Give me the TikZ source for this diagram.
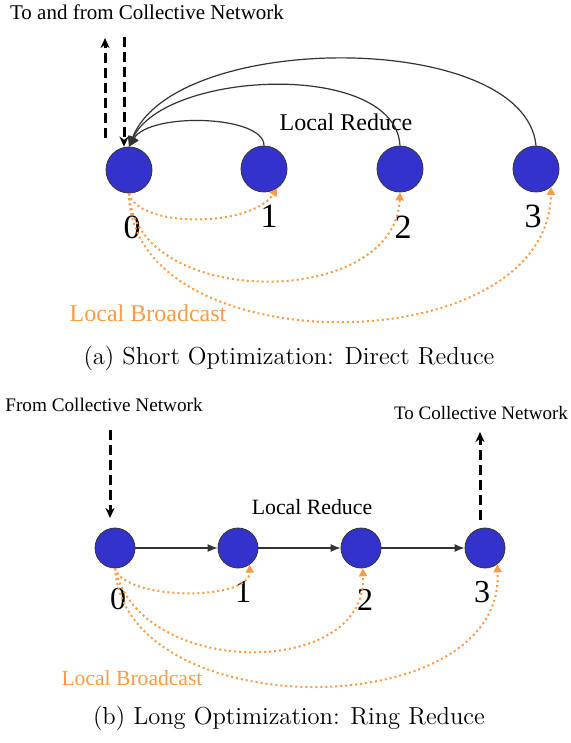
\documentclass[tikz,border=0pt]{standalone}
\usepackage{fontspec}
\newfontfamily\tnr{Liberation Serif}
\usetikzlibrary{arrows.meta}
\definecolor{procblue}{RGB}{51,51,204}
\definecolor{bcastorange}{RGB}{250,155,70}
\tikzset{
    proc/.style={circle, draw=black!80, fill=procblue, inner sep=0pt,
        minimum size=23pt},
    txt/.style={font=\tnr, inner sep=0pt},
    rank/.style={font=\tnr\fontsize{17}{17}\selectfont, inner sep=0pt},
    reduce/.style={draw=black!80, line width=0.6pt,
        -{Triangle[length=5pt,width=5pt]}},
    net/.style={line width=1.5pt, dash pattern=on 5pt off 2.5pt,
        -{Stealth[length=5pt,width=4.5pt]}},
    bcast/.style={draw=bcastorange, line width=1pt,
        dash pattern=on 1pt off 1.5pt,
        -{Triangle[length=4pt,width=4pt,fill=bcastorange]}}
}

\begin{document}
\begin{tikzpicture}[x=0.5pt, y=-0.5pt]
	\useasboundingbox (0,0) rectangle (571,743);

	% (a) direct reduce
	\node (a0) [proc] at (129,170) {};
	\node (a1) [proc] at (264,169) {};
	\node (a2) [proc] at (400,169) {};
	\node (a3) [proc] at (536,169) {};
	\node (ra0) [rank] at (132,227) {0};
	\node (ra1) [rank] at (269,216) {1};
	\node (ra2) [rank] at (403,227) {2};
	\node (ra3) [rank] at (533,216) {3};

	\node (neta) [txt, font=\tnr\fontsize{10.5}{12}\selectfont] at (147,12) {To and from Collective Network};
	\node (reda) [txt, font=\tnr\fontsize{12}{14}\selectfont] at (346,122) {Local Reduce};
	\node (bca) [txt, font=\tnr\fontsize{12}{14}\selectfont, text=bcastorange] at (148,313) {Local Broadcast};

	\coordinate (upa) at (105,38);
	\coordinate (upa0) at (105,138);
	\coordinate (dna) at (124,37);
	\draw[net] (upa0) -- (upa);
	\draw[net] (dna) -- (dna |- a0.north);

	\draw[reduce] (a1.north) .. controls (264,115) and (150,112) .. (a0.north);
	\draw[reduce] (a2.north) .. controls (395,60) and (165,70) .. (a0.north);
	\draw[reduce] (a3.north) .. controls (525,30) and (175,30) .. (a0.north);

	\draw[bcast] (a0.south) .. controls (138,228) and (250,228) .. (a1.-55);
	\draw[bcast] (a0.south) .. controls (135,310) and (395,310) .. (a2.south);
	\draw[bcast] (a0.south) .. controls (130,365) and (548,365) .. (a3.-50);

	\node (capa) at (289,358) {\fontsize{12.3}{14}\selectfont (a) Short Optimization: Direct Reduce};

	% (b) ring reduce
	\node (b0) [proc, minimum size=20pt] at (115,548) {};
	\node (b1) [proc, minimum size=20pt] at (238,548) {};
	\node (b2) [proc, minimum size=20pt] at (361,548) {};
	\node (b3) [proc, minimum size=20pt] at (485,548) {};
	\node (rb0) [rank, font=\tnr\fontsize{16}{16}\selectfont] at (118,599) {0};
	\node (rb1) [rank, font=\tnr\fontsize{16}{16}\selectfont] at (243,592) {1};
	\node (rb2) [rank, font=\tnr\fontsize{16}{16}\selectfont] at (365,600) {2};
	\node (rb3) [rank, font=\tnr\fontsize{16}{16}\selectfont] at (482,592) {3};

	\node (netb) [txt, font=\tnr\fontsize{9.6}{11}\selectfont] at (104,405) {From Collective Network};
	\node (netc) [txt, font=\tnr\fontsize{9.5}{11}\selectfont] at (481,413) {To Collective Network};
	\node (redb) [txt, font=\tnr\fontsize{10.9}{13}\selectfont] at (312,507) {Local Reduce};
	\node (bcb) [txt, font=\tnr\fontsize{10.8}{13}\selectfont, text=bcastorange] at (132,678) {Local Broadcast};

	\coordinate (dnb) at (110,430);
	\coordinate (upb) at (480,432);
	\coordinate (upb0) at (480,520);
	\draw[net] (dnb) -- (110,518);
	\draw[net] (upb0) -- (upb);

	\draw[reduce, -{Latex[length=5pt,width=4pt]}] (b0) -- (b1);
	\draw[reduce, -{Latex[length=5pt,width=4pt]}] (b1) -- (b2);
	\draw[reduce, -{Latex[length=5pt,width=4pt]}] (b2) -- (b3);

	\draw[bcast] (b0.south) .. controls (125,601) and (250,601) .. (b1.-55);
	\draw[bcast] (b0.south) .. controls (140,679) and (368,679) .. (b2.-85);
	\draw[bcast] (b0.south) .. controls (125,726) and (505,726) .. (b3.-53);

	\node (capb) at (289,718) {\fontsize{12.3}{14}\selectfont (b) Long Optimization: Ring Reduce};
\end{tikzpicture}
\end{document}
